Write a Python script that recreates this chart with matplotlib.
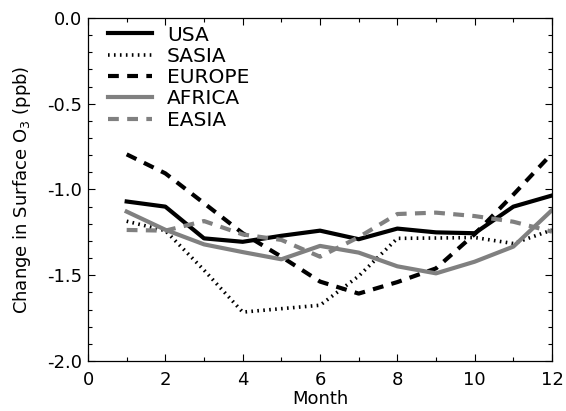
import numpy as np
import matplotlib
matplotlib.use("Agg")
import matplotlib.pyplot as plt
from matplotlib.ticker import MultipleLocator, FormatStrFormatter

plt.rcParams["font.family"] = ["DejaVu Sans"]

# %% data
months = [1, 2, 3, 4, 5, 6, 7, 8, 9, 10, 11, 12]
usa = [-1.07, -1.10, -1.285, -1.305, -1.27, -1.24, -1.29, -1.228, -1.25, -1.255, -1.10, -1.035]
sasia = [-1.185, -1.24, -1.47, -1.715, -1.695, -1.675, -1.505, -1.285, -1.283, -1.28, -1.315, -1.236]
europe = [-0.795, -0.906, -1.08, -1.255, -1.392, -1.537, -1.607, -1.54, -1.46, -1.26, -1.03, -0.79]
africa = [-1.129, -1.235, -1.32, -1.365, -1.407, -1.329, -1.368, -1.448, -1.489, -1.421, -1.333, -1.12]
easia = [-1.236, -1.24, -1.184, -1.262, -1.294, -1.392, -1.278, -1.143, -1.135, -1.155, -1.188, -1.246]

gray = '#808080'

# %% plot
fig = plt.figure(figsize=(5.66, 4.11), dpi=100)
ax = fig.add_axes([0.1555, 0.1217, 0.8198, 0.8345])

ax.plot(months, usa, color='black', lw=3, label='USA')
ax.plot(months, sasia, color='black', lw=2.6, linestyle=(0, (0.45, 1.2)),
        dash_capstyle='butt', label='SASIA')
ax.plot(months, europe, color='black', lw=3, linestyle=(0, (2.6, 2.0)),
        dash_capstyle='butt', label='EUROPE')
ax.plot(months, africa, color=gray, lw=3, label='AFRICA')
ax.plot(months, easia, color=gray, lw=3, linestyle=(0, (2.6, 2.0)),
        dash_capstyle='butt', label='EASIA')

ax.set_xlim(0, 12)
ax.set_ylim(-2.0, 0.0)
ax.xaxis.set_major_locator(MultipleLocator(2))
ax.xaxis.set_minor_locator(MultipleLocator(1))
ax.yaxis.set_major_locator(MultipleLocator(0.5))
ax.yaxis.set_minor_locator(MultipleLocator(0.1))
ax.yaxis.set_major_formatter(FormatStrFormatter('%.1f'))

ax.tick_params(which='both', direction='in', top=True, right=True, labelsize=13)
ax.tick_params(which='major', length=5, width=0.8)
ax.tick_params(which='minor', length=3, width=0.8)
ax.tick_params(axis='x', pad=7.5)
ax.tick_params(axis='y', pad=4)
for s in ax.spines.values():
    s.set_linewidth(0.9)

ax.set_xlabel('Month', fontsize=13, labelpad=0.5)
ax.set_ylabel('Change in Surface O$_3$ (ppb)', fontsize=13, labelpad=10)

ax.legend(loc='upper left', bbox_to_anchor=(0.043, 0.978), frameon=False,
          fontsize=14.5, handlelength=2.2, handletextpad=0.73,
          labelspacing=0.115, borderaxespad=0, borderpad=0)

plt.savefig('out.png', dpi=100)
